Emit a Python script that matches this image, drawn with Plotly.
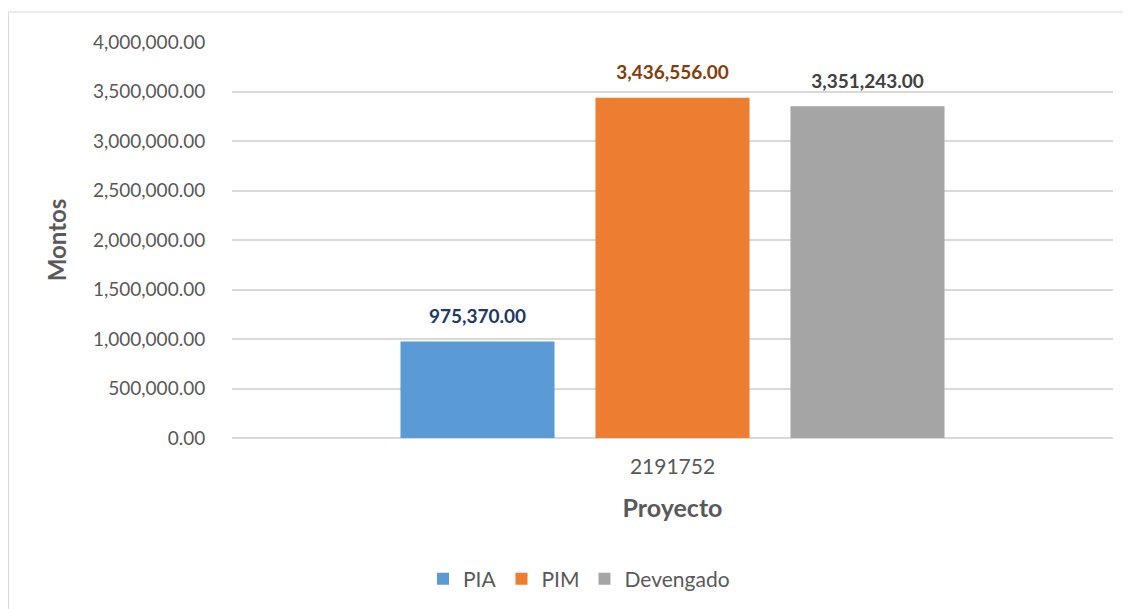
import plotly.graph_objects as go

categories = ["2191752"]
series_names = ["PIA", "PIM", "Devengado"]
pia = [975370.00]
pim = [3436556.00]
devengado = [3351243.00]
y_ticks = [0, 500000, 1000000, 1500000, 2000000, 2500000, 3000000, 3500000, 4000000]

bar_colors = ["#5B9BD5", "#ED7D31", "#A5A5A5"]
label_colors = ["#203864", "#843C0C", "#404040"]

# page body has an 8px margin; the figure is sized to fill the rest of the window
W, H = 1123, 601
ML, MR, MT, MB = 224, 18, 34, 171

fig = go.Figure()
for name, vals, bc, lc in zip(series_names, [pia, pim, devengado], bar_colors, label_colors):
    fig.add_trace(go.Bar(
        name=name, x=categories, y=vals,
        marker=dict(color=bc, line=dict(width=0)),
        texttemplate="<span style='font-size:19px'><b>%{y:,.2f}</b></span><br><span style='font-size:1px'> </span>",
        textposition="outside",
        textfont=dict(family="Lato", size=12, color=lc),
        cliponaxis=False,
    ))

pw = W - ML - MR
ph = H - MT - MB
fig.add_shape(type="rect", xref="paper", yref="paper",
              x0=(0.5 - ML) / pw, x1=(W + 20 - ML) / pw,
              y0=-(H + 20 - MT - ph) / ph, y1=(H - MB - 4) / ph,
              line=dict(color="#D9D9D9", width=1), fillcolor="rgba(0,0,0,0)", layer="below")

fig.update_layout(
    width=W, height=H,
    margin=dict(l=ML, r=MR, t=MT, b=MB),
    paper_bgcolor="white", plot_bgcolor="white",
    barmode="group", bargap=0.336, bargroupgap=0.21,
    font=dict(family="Lato", color="#595959"),
    showlegend=True,
    legend=dict(orientation="h", xref="container", yref="container",
                x=571 / W, y=1 - 571 / H, xanchor="center", yanchor="middle",
                font=dict(family="Lato", size=21, color="#595959"),
                itemwidth=30, tracegroupgap=0),
    xaxis=dict(title=dict(text="<b>Proyecto</b>", font=dict(size=25, color="#595959"), standoff=22),
               tickfont=dict(size=21, color="#595959"), showgrid=False, showline=False,
               ticks="outside", ticklen=10, tickcolor="rgba(0,0,0,0)"),
    yaxis=dict(title=dict(text="<b>Montos</b>", font=dict(size=24, color="#595959"), standoff=19),
               range=[0, 4000000], tickvals=y_ticks, tickformat=",.2f",
               tickfont=dict(size=19, color="#595959"),
               showgrid=True, gridcolor="#D9D9D9", gridwidth=1.5,
               zeroline=True, zerolinecolor="#D9D9D9", zerolinewidth=1.5,
               showline=False, ticks="outside", ticklen=22, tickcolor="rgba(0,0,0,0)"),
)

fig.write_html("out.html")
